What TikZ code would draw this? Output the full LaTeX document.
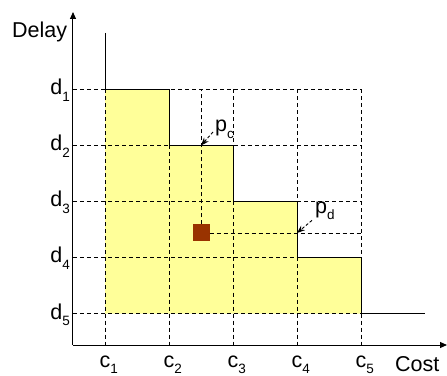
\documentclass[tikz,border=0pt]{standalone}
\usepackage{fontspec}
\setmainfont{Liberation Sans}
\usetikzlibrary{arrows.meta,positioning,calc}
\definecolor{stairyellow}{HTML}{FFFF99}
\definecolor{solbrown}{HTML}{993300}
\newcommand{\axsub}[2]{#1\raisebox{-6.5pt}{\fontsize{13.5pt}{13.5pt}\selectfont #2}}
\tikzset{
  gridLine/.style={dash pattern=on 4pt off 3pt, line width=0.8pt},
  stairLine/.style={line width=1pt},
  axisArrow/.style={-{Triangle[length=7pt,width=6pt]}, line width=1pt},
  pointArrow/.style={dash pattern=on 3pt off 2pt, -{Stealth[length=8pt,width=6pt]}, line width=0.9pt},
  axisLabel/.style={font=\fontsize{21.5pt}{24pt}\selectfont, inner sep=0pt}
}

\begin{document}
\begin{tikzpicture}[x=1pt,y=1pt]
  \useasboundingbox (-73,-30) rectangle (374,345);
  \coordinate (o) at (0,0);
  \foreach \i in {1,...,5} {
    \coordinate (c\i) at ({32+64*(\i-1)},0);
    \coordinate (d\i) at (0,{255.5-56*(\i-1)});
  }
  % region under the staircase
  \fill[stairyellow] (c1 |- d5) -- (c1 |- d1) -- (c2 |- d1) -- (c2 |- d2) -- (c3 |- d2)
    -- (c3 |- d3) -- (c4 |- d3) -- (c4 |- d4) -- (c5 |- d4) -- (c5 |- d5) -- cycle;
  \foreach \i in {1,...,5} {
    \draw[gridLine] (d\i) -- (c5 |- d\i);
    \draw[gridLine] (c\i |- d1) -- (c\i);
  }
  % staircase
  \coordinate (top) at (32,312);
  \coordinate (tail) at (352,0);
  \draw[stairLine] (top) -- (c1 |- d1) -- (c2 |- d1) -- (c2 |- d2) -- (c3 |- d2) -- (c3 |- d3)
    -- (c4 |- d3) -- (c4 |- d4) -- (c5 |- d4) -- (c5 |- d5) -- (tail |- d5);
  % axes
  \coordinate (ytip) at (0,333);
  \coordinate (xtip) at (374,0);
  \draw[axisArrow] (o) -- (ytip);
  \draw[axisArrow] (o) -- (xtip);
  % solution point
  \node[fill=solbrown, minimum size=17pt, inner sep=0pt] (sol) at (128,112) {};
  \draw[gridLine] (sol.north) -- (sol.north |- d1);
  \draw[gridLine] (sol.east) -- (c5 |- sol.east);
  \coordinate (Pc) at (sol |- d2);
  \coordinate (Pd) at (c4 |- sol);
  % labels
  \foreach \i in {1,...,5} {
    \node[axisLabel, anchor=base west] (clab\i) at ([shift={(-5.5,-22)}]c\i) {\axsub{c}{\i}};
    \node[axisLabel, anchor=base east] (dlab\i) at ([shift={(-3,-5.5)}]d\i) {\axsub{d}{\i}};
  }
  \node[axisLabel, anchor=base west] (cost) at (322,-26.5) {Cost};
  \node[axisLabel, anchor=base west] (delay) at (-61,307) {Delay};
  \node[axisLabel, anchor=base west] (pclab) at (142,213) {\axsub{p}{c}};
  \node[axisLabel, anchor=base west] (pdlab) at (242,131.5) {\axsub{p}{d}};
  \draw[pointArrow] ([xshift=-2pt]pclab.base west) -- (Pc);
  \draw[pointArrow] ([xshift=-3pt]pdlab.south west) -- (Pd);
\end{tikzpicture}
\end{document}
